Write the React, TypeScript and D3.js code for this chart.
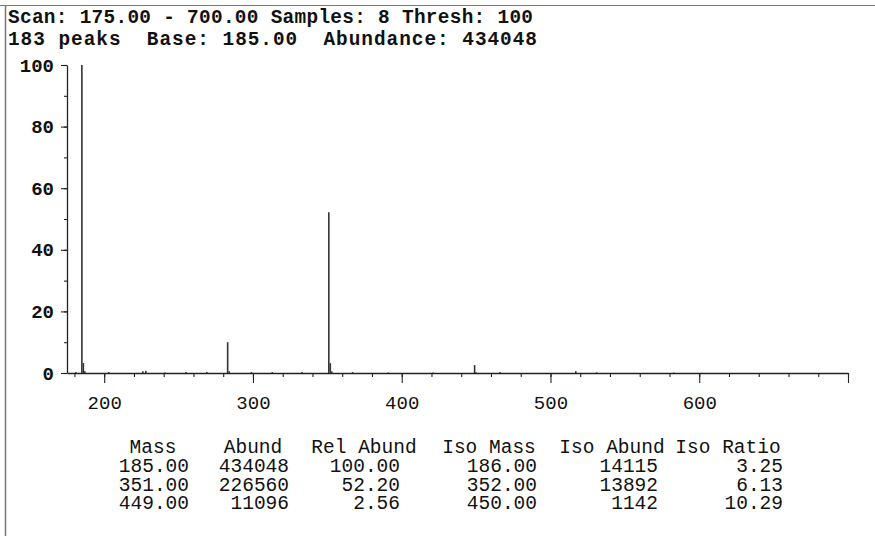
import React, { useEffect, useRef } from "react";
import * as d3 from "d3";

// header lines printed above the spectrum
const headerLines = [
  "Scan: 175.00 - 700.00 Samples: 8 Thresh: 100",
  "183 peaks  Base: 185.00  Abundance: 434048",
];

// spectrum peaks (m/z, relative abundance %)
const peakMass = [181, 185, 186, 187, 203, 226, 228, 241, 255, 269, 283, 284, 299, 313, 333, 351, 352, 353, 367, 391, 421, 449, 450, 466, 517, 531, 583];
const peakRel = [0.3, 100, 3.25, 0.6, 0.3, 0.6, 0.7, 0.2, 0.3, 0.3, 10, 0.6, 0.3, 0.3, 0.3, 52.2, 3.2, 0.5, 0.3, 0.2, 0.2, 2.56, 0.26, 0.3, 0.6, 0.2, 0.2];

const yTickLabels = [0, 20, 40, 60, 80, 100];
const xTickLabels = [200, 300, 400, 500, 600];

// peak table
const tableHeaders = ["Mass", "Abund", "Rel Abund", "Iso Mass", "Iso Abund", "Iso Ratio"];
const massCol = ["185.00", "351.00", "449.00"];
const abundCol = ["434048", "226560", "11096"];
const relAbundCol = ["100.00", "52.20", "2.56"];
const isoMassCol = ["186.00", "352.00", "450.00"];
const isoAbundCol = ["14115", "13892", "1142"];
const isoRatioCol = ["3.25", "6.13", "10.29"];

const W = 875;
const H = 536;
const FONT = "'Liberation Mono', 'DejaVu Sans Mono', monospace";

const Spectrum = () => {
  const ref = useRef<SVGSVGElement | null>(null);

  useEffect(() => {
    const svg = d3.select(ref.current);
    svg.selectAll("*").remove();

    const x = d3.scaleLinear().domain([175, 700]).range([67, 848]);
    const y = d3.scaleLinear().domain([0, 100]).range([373, 65]);

    // page frame (left and top edge)
    svg.append("line").attr("x1", 0).attr("x2", W).attr("y1", 5.5).attr("y2", 5.5)
      .attr("stroke", "#777").attr("stroke-width", 1.2);
    svg.append("line").attr("x1", 5.5).attr("x2", 5.5).attr("y1", 5).attr("y2", H)
      .attr("stroke", "#777").attr("stroke-width", 1.5);

    // header text, stretched to the printed line widths
    const headWidths = [525, 529];
    const head = svg.append("g")
      .attr("font-family", FONT)
      .attr("font-size", 19.4)
      .attr("font-weight", "bold")
      .attr("fill", "#111");
    headerLines.forEach((t, i) => {
      head.append("text")
        .attr("x", 8)
        .attr("y", 23 + i * 22)
        .attr("xml:space", "preserve")
        .style("white-space", "pre")
        .attr("textLength", headWidths[i])
        .attr("lengthAdjust", "spacing")
        .text(t);
    });

    // y axis: minor + major ticks
    const yMinor = svg.append("g").attr("transform", "translate(67,0)")
      .call(d3.axisLeft(y).tickValues(d3.range(0, 101, 10)).tickSize(3).tickSizeOuter(0).tickFormat(() => ""));
    yMinor.select(".domain").remove();
    const yMajor = svg.append("g").attr("transform", "translate(67,0)")
      .call(d3.axisLeft(y).tickValues(yTickLabels).tickSize(6).tickSizeOuter(0).tickPadding(7));
    yMajor.select(".domain").attr("stroke", "#222").attr("stroke-width", 1.3);
    yMajor.selectAll("text")
      .attr("font-family", FONT).attr("font-size", 19).attr("font-weight", "bold").attr("fill", "#111");

    // x axis: minor ticks every 20, major every 100
    const xMinor = svg.append("g").attr("transform", "translate(0,373)")
      .call(d3.axisBottom(x).tickValues(d3.range(180, 701, 20)).tickSize(4).tickSizeOuter(0).tickFormat(() => ""));
    xMinor.select(".domain").remove();
    const xMajor = svg.append("g").attr("transform", "translate(0,373)")
      .call(d3.axisBottom(x).tickValues(d3.range(200, 701, 100)).tickSize(10).tickSizeOuter(0).tickPadding(13)
        .tickFormat((d) => (xTickLabels.includes(+d) ? String(d) : "")));
    xMajor.select(".domain").attr("stroke", "#222").attr("stroke-width", 1.3);
    xMajor.selectAll("text")
      .attr("font-family", FONT).attr("font-size", 19).attr("fill", "#111");
    svg.selectAll(".tick line").attr("stroke", "#222").attr("stroke-width", 1.1);

    // peaks
    svg.append("g")
      .selectAll("line")
      .data(peakMass)
      .enter()
      .append("line")
      .attr("x1", (d) => x(d))
      .attr("x2", (d) => x(d))
      .attr("y1", y(0))
      .attr("y2", (_, i) => y(peakRel[i]))
      .attr("stroke", "#333")
      .attr("stroke-width", 1.6);

    // peak table
    const headerCenters = [153, 253, 364, 489, 612, 728];
    const colRights = [189, 289, 400, 537, 658, 783];
    const cols = [massCol, abundCol, relAbundCol, isoMassCol, isoAbundCol, isoRatioCol];
    const table = svg.append("g")
      .attr("font-family", FONT)
      .attr("font-size", 19.5)
      .attr("fill", "#111");
    tableHeaders.forEach((h, i) => {
      table.append("text")
        .attr("x", headerCenters[i])
        .attr("y", 453)
        .attr("text-anchor", "middle")
        .text(h);
    });
    cols.forEach((col, c) => {
      col.forEach((v, r) => {
        table.append("text")
          .attr("x", colRights[c])
          .attr("y", 472 + r * 18.7)
          .attr("text-anchor", "end")
          .text(v);
      });
    });
  }, []);

  return (
    <svg
      ref={ref}
      width={W}
      height={H}
      style={{ position: "absolute", left: 0, top: 0, background: "#fff" }}
    />
  );
};

export default function App() {
  return <Spectrum />;
}
